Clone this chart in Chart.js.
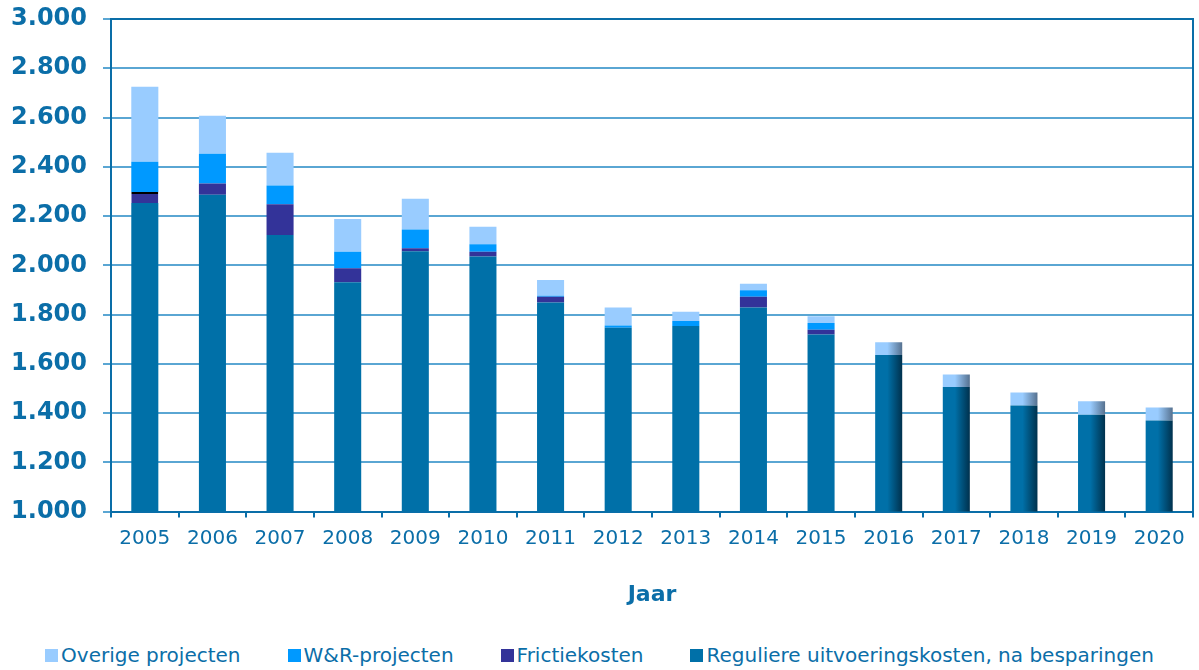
<!DOCTYPE html>
<html>
<head>
<meta charset="utf-8">
<script src="https://cdn.jsdelivr.net/npm/chart.js@4"></script>
<style>
    html, body { margin: 0; padding: 0; background: #ffffff; }
    #wrap { width: 1199px; height: 670px; position: relative; }
    #chart-box { position: absolute; left: 0; top: 0; width: 1199px; height: 622px; }
    #legend {
        position: absolute; left: 0; top: 643px; width: 1199px;
        display: flex; justify-content: center; gap: 47px;
        font-family: 'DejaVu Sans', sans-serif; font-size: 20px; color: #0b6ea8;
    }
    #legend .item { display: flex; align-items: center; white-space: nowrap; }
    #legend .box { width: 13px; height: 13px; margin-right: 3px; }
</style>
</head>
<body>
<div id="wrap">
    <div id="chart-box"><canvas id="kosten-chart"></canvas></div>
    <div id="legend"></div>
</div>
<script>
// Data (bedragen, y-as begint bij 1.000)
const years = ["2005", "2006", "2007", "2008", "2009", "2010", "2011", "2012", "2013", "2014", "2015", "2016", "2017", "2018", "2019", "2020"];
const regulier = [2253, 2286, 2123, 1931, 2057, 2036, 1849, 1746, 1754, 1829, 1719, 1636, 1506, 1431, 1393, 1370];
const frictie = [45, 46, 125, 57, 12, 19, 23, 0, 0, 43, 19, 0, 0, 0, 0, 0];
const wrProjecten = [122, 121, 76, 67, 76, 30, 4, 10, 20, 27, 28, 0, 0, 0, 0, 0];
const overige = [305, 154, 133, 133, 125, 72, 64, 73, 37, 26, 27, 52, 51, 53, 55, 53];
const yTicks = [1000, 1200, 1400, 1600, 1800, 2000, 2200, 2400, 2600, 2800, 3000];

const textBlue = '#0b6ea8';
const axisBlue = '#0a6ea8';
const gridBlue = '#5aa6d3';
const firstForecast = 11; // 2016 and later drawn with shaded bars

// shaded fill for the forecast years (light at left, dark at right)
function barFill(base, dark) {
    return function (ctx) {
        if (ctx.dataIndex < firstForecast) return base;
        const chart = ctx.chart;
        const xScale = chart.scales.x;
        if (!xScale || !chart.chartArea) return base;
        const cx = xScale.getPixelForValue(ctx.dataIndex);
        const half = 0.4 * (xScale.width / years.length) / 2;
        const g = chart.ctx.createLinearGradient(cx - half, 0, cx + half, 0);
        g.addColorStop(0, base);
        g.addColorStop(0.45, base);
        g.addColorStop(1, dark);
        return g;
    };
}

function formatThousands(v) {
    return String(v).replace(/\B(?=(\d{3})+(?!\d))/g, '.');
}

const ctx = document.getElementById('kosten-chart').getContext('2d');
const kostenChart = new Chart(ctx, {
    type: 'bar',
    data: {
        labels: years,
        datasets: [{
            label: 'Reguliere uitvoeringskosten, na besparingen',
            data: regulier,
            backgroundColor: barFill('#0070a8', '#00314d'),
            legendColor: '#0070a8'
        },
        {
            label: 'Frictiekosten',
            data: frictie,
            backgroundColor: '#333399',
            borderColor: '#000000',
            borderSkipped: false,
            borderWidth: (c) => c.dataIndex === 0 ? { top: 2, left: 0, right: 0, bottom: 0 } : 0
        },
        {
            label: 'W&R-projecten',
            data: wrProjecten,
            backgroundColor: '#0099ff'
        },
        {
            label: 'Overige projecten',
            data: overige,
            backgroundColor: barFill('#99ccff', '#56718f'),
            legendColor: '#99ccff'
        }]
    },
    options: {
        responsive: true,
        maintainAspectRatio: false,
        animation: false,
        datasets: {
            bar: {
                barPercentage: 0.8,
                categoryPercentage: 0.5
            }
        },
        layout: {
            padding: { left: 3, top: 0, right: 6, bottom: 5 }
        },
        scales: {
            x: {
                stacked: true,
                grid: {
                    drawOnChartArea: false,
                    drawTicks: true,
                    tickLength: 6,
                    tickColor: axisBlue,
                    lineWidth: 2
                },
                border: { color: axisBlue, width: 2 },
                ticks: {
                    color: textBlue,
                    padding: 9,
                    font: { family: 'DejaVu Sans', size: 20 }
                },
                title: {
                    display: true,
                    text: 'Jaar',
                    color: textBlue,
                    padding: { top: 22, bottom: 9 },
                    font: { family: 'DejaVu Sans', size: 22, weight: 'bold' }
                }
            },
            y: {
                stacked: true,
                min: yTicks[0],
                max: yTicks[yTicks.length - 1],
                afterBuildTicks: (axis) => {
                    axis.ticks = yTicks.map(v => ({ value: v }));
                },
                afterFit: (axis) => {
                    // fixed axis box so the plot lines up with the original
                    axis.width = 108;
                    axis.paddingTop = 19;
                },
                grid: {
                    color: (c) => c.tick && c.tick.value === 3000 ? axisBlue : gridBlue,
                    lineWidth: 2,
                    tickLength: 8,
                    tickColor: gridBlue
                },
                border: { color: axisBlue, width: 2 },
                ticks: {
                    color: textBlue,
                    padding: 16,
                    font: { family: 'DejaVu Sans', size: 24, weight: 'bold' },
                    callback: (v) => formatThousands(v)
                }
            },
            yRight: {
                position: 'right',
                min: yTicks[0],
                max: yTicks[yTicks.length - 1],
                grid: { drawOnChartArea: false, drawTicks: false },
                border: { color: axisBlue, width: 2 },
                ticks: { display: false }
            }
        },
        plugins: {
            legend: { display: false },
            tooltip: { enabled: false }
        }
    }
});

// HTML legend built from the chart's datasets, top series first
const legendEl = document.getElementById('legend');
kostenChart.data.datasets.slice().reverse().forEach(ds => {
    const item = document.createElement('div');
    item.className = 'item';
    const box = document.createElement('span');
    box.className = 'box';
    box.style.background = ds.legendColor || ds.backgroundColor;
    const label = document.createElement('span');
    label.textContent = ds.label;
    item.appendChild(box);
    item.appendChild(label);
    legendEl.appendChild(item);
});
</script>
</body>
</html>
